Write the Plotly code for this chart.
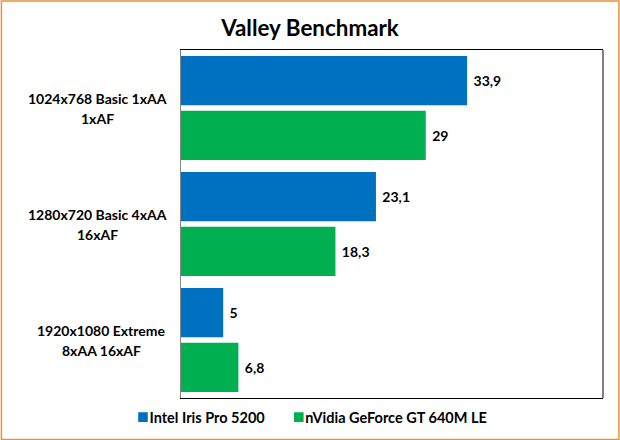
import plotly.graph_objects as go

categories = ['1024x768 Basic 1xAA<br>1xAF', '1280x720 Basic 4xAA<br>16xAF', '1920x1080 Extreme<br>8xAA 16xAF']
iris_values = [33.9, 23.1, 5]
geforce_values = [29, 18.3, 6.8]
iris_labels = ['33,9', '23,1', '5']
geforce_labels = ['29', '18,3', '6,8']
label_centers = [-84, -84, -80]  # px left of the plot, Excel centres each block

FONT = 'Lato'
BLUE = '#0070C0'
GREEN = '#00B050'

# no page margin, and smaller legend keys sitting close to their text
POST_SCRIPT = """
document.body.style.margin = '0';
document.querySelectorAll('.legendpoints').forEach(function (p) {
    p.setAttribute('transform', 'translate(17.5,0) scale(0.8)');
});
"""


def bar_trace(name, values, labels, color):
    return go.Bar(
        name=name, x=values, y=categories, orientation='h',
        marker={'color': color, 'line': {'width': 0}},
        text=labels, texttemplate='\u00a0%{text}', textposition='outside',
        textfont={'family': FONT, 'size': 14, 'color': 'black', 'weight': 'bold'},
        cliponaxis=False,
    )


traces = [
    bar_trace('Intel Iris Pro 5200', iris_values, iris_labels, BLUE),
    bar_trace('nVidia GeForce GT 640M LE', geforce_values, geforce_labels, GREEN),
]

# one annotation per line, plotly's <br> spacing is tighter than the original
labels = []
for c, center in zip(categories, label_centers):
    for line, shift in zip(c.split('<br>'), [10, -10]):
        labels.append({
            'x': 0, 'y': c, 'xref': 'paper', 'yref': 'y', 'text': line, 'showarrow': False,
            'xanchor': 'center', 'xshift': center, 'yshift': shift,
            'font': {'family': FONT, 'size': 14, 'color': 'black', 'weight': 'bold'},
        })

layout = go.Layout(
    width=620, height=440,
    margin={'l': 180.5, 'r': 16.5, 't': 49.5, 'b': 42, 'pad': 0, 'autoexpand': False},
    paper_bgcolor='white', plot_bgcolor='white',
    title={'text': 'Valley Benchmark', 'x': 0.5, 'xanchor': 'center', 'y': 0.935, 'yanchor': 'middle',
           'font': {'family': FONT, 'size': 22.4, 'color': 'black', 'weight': 'bold'}},
    barmode='group', bargap=0.054, bargroupgap=0.1,
    xaxis={'range': [0, 50], 'showgrid': False, 'zeroline': False, 'showticklabels': False, 'ticks': '',
           'showline': True, 'linecolor': 'black', 'linewidth': 1, 'mirror': True},
    yaxis={'autorange': 'reversed', 'showgrid': False, 'zeroline': False, 'showticklabels': False,
           'ticks': '', 'showline': True, 'linecolor': '#868686', 'linewidth': 1},
    legend={'orientation': 'h', 'x': 114.5 / 620, 'y': 0.0155, 'xref': 'container', 'yref': 'container',
            'xanchor': 'left', 'yanchor': 'bottom', 'indentation': -5, 'bgcolor': 'rgba(0,0,0,0)',
            'font': {'family': FONT, 'size': 14.5, 'color': 'black', 'weight': 'bold'}},
    annotations=labels,
    shapes=[
        {'type': 'line', 'xref': 'x domain', 'yref': 'y domain', 'x0': 1, 'x1': 1, 'y0': 0, 'y1': 1,
         'line': {'color': 'black', 'width': 1}},
        {'type': 'rect', 'xref': 'paper', 'yref': 'paper', 'x0': -180 / 423, 'x1': 1 + 16 / 423,
         'y0': -41.5 / 348.5, 'y1': 1 + 49 / 348.5, 'line': {'color': '#E8913A', 'width': 1.5}},
    ],
)

fig = go.Figure(data=traces, layout=layout)
fig.write_html('out.html', config={'displayModeBar': False}, post_script=POST_SCRIPT)
